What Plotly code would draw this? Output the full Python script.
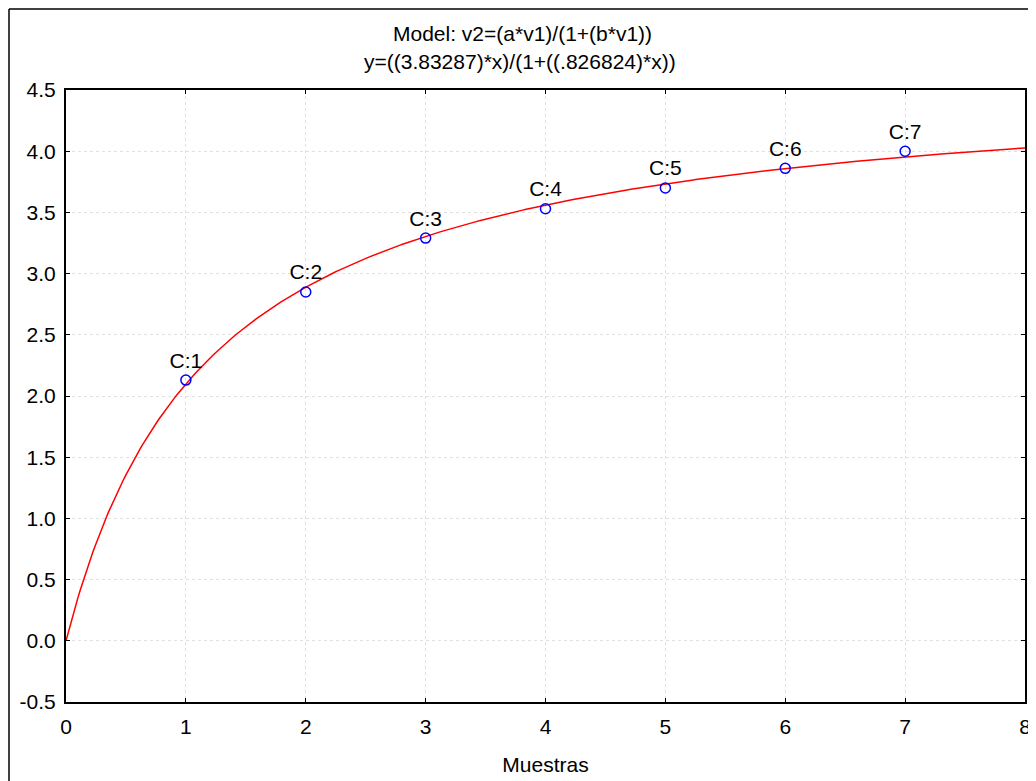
import numpy as np
import plotly.graph_objects as go

# Data
labels = ["C:1", "C:2", "C:3", "C:4", "C:5", "C:6", "C:7"]
x_vals = [1, 2, 3, 4, 5, 6, 7]
y_vals = [2.13, 2.85, 3.29, 3.53, 3.70, 3.86, 4.00]
# Fitted model parameters shown in the title
a_par = 3.83287
b_par = 0.826824
x_ticks = [0, 1, 2, 3, 4, 5, 6, 7, 8]
y_ticks = [-0.5, 0.0, 0.5, 1.0, 1.5, 2.0, 2.5, 3.0, 3.5, 4.0, 4.5]

FONT = "Arial, Liberation Sans, sans-serif"
FS = 21

xc = np.linspace(0, 8, 400)
yc = (a_par * xc) / (1 + b_par * xc)

fig = go.Figure()
fig.add_trace(go.Scatter(x=xc, y=yc, mode="lines",
                         line=dict(color="#ff0000", width=1.5),
                         hoverinfo="skip", showlegend=False))
fig.add_trace(go.Scatter(x=x_vals, y=y_vals, mode="markers+text",
                         text=labels, textposition="top center",
                         textfont=dict(family=FONT, size=FS, color="black"),
                         marker=dict(symbol="circle-open", size=10,
                                     color="#0000ff", line=dict(width=1.5, color="#0000ff")),
                         showlegend=False))

axis_common = dict(showline=True, linecolor="black", linewidth=2, mirror="ticks",
                   ticks="inside", ticklen=4, tickcolor="black", tickwidth=1,
                   showgrid=True, gridcolor="#e0e0e0", griddash="dot", gridwidth=1,
                   zeroline=False,
                   tickfont=dict(family=FONT, size=FS, color="black"))

fig.update_xaxes(range=[0, 8], tickvals=x_ticks, ticktext=[str(v) for v in x_ticks],
                 ticklabelstandoff=5,
                 title=dict(text="Muestras", font=dict(family=FONT, size=FS, color="black"),
                            standoff=20),
                 **axis_common)
fig.update_yaxes(range=[-0.5, 4.5], tickvals=y_ticks, ticktext=[f"{v:.1f}" for v in y_ticks],
                 ticklabelstandoff=4,
                 **axis_common)

bx = (9 - 66) / 959
by = (702 - 9) / 612
fig.update_layout(
    width=1028, height=773,
    margin=dict(l=58, r=11, t=82, b=79, autoexpand=False),
    paper_bgcolor="white", plot_bgcolor="white",
    font=dict(family=FONT, color="black"),
    showlegend=False,
    annotations=[
        dict(text="Model: v2=(a*v1)/(1+(b*v1))", xref="paper", yref="paper",
             x=(522 - 66) / 959, y=(702 - 33) / 612, xanchor="center", yanchor="middle",
             showarrow=False, font=dict(family=FONT, size=FS, color="black")),
        dict(text="y=((3.83287)*x)/(1+((.826824)*x))", xref="paper", yref="paper",
             x=(520 - 66) / 959, y=(702 - 62) / 612, xanchor="center", yanchor="middle",
             showarrow=False, font=dict(family=FONT, size=FS, color="black")),
    ],
    shapes=[
        dict(type="line", xref="paper", yref="paper", x0=bx, x1=bx, y0=-0.2, y1=by,
             line=dict(color="black", width=1.5), layer="below"),
        dict(type="line", xref="paper", yref="paper", x0=bx, x1=1.02, y0=by, y1=by,
             line=dict(color="black", width=1.5), layer="below"),
    ],
)

fig.write_html("out.html")
